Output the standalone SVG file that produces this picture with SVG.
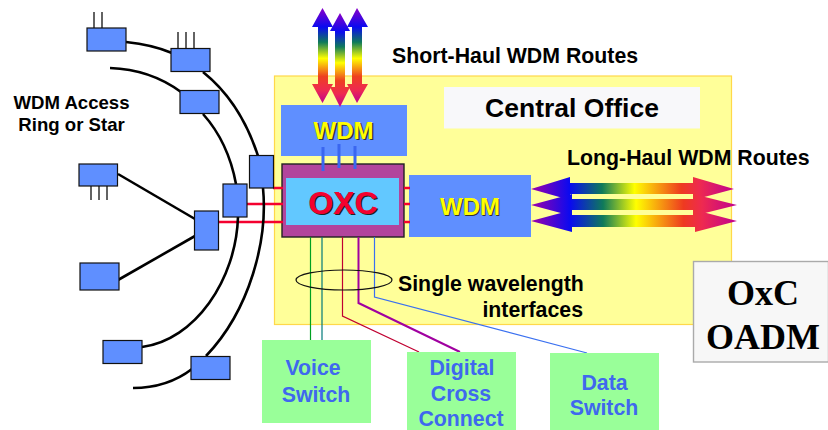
<svg xmlns="http://www.w3.org/2000/svg" width="828" height="430" viewBox="0 0 828 430">
<style>
text{font-family:"Liberation Sans",Arial,sans-serif;font-weight:bold}
.blk{fill:#000}
.lbl{font-size:21.300px}
.acc{font-size:18.600px;text-anchor:middle}
.sw{fill:#3f68ee;font-size:21.300px;text-anchor:middle}
.wdm{fill:#ffff00;font-size:24px;text-anchor:middle}
.wdm-s{fill:#333;font-size:24px;text-anchor:middle}
.serif{font-family:"Liberation Serif",serif;font-size:36px;text-anchor:middle}
.node{fill:#5f8fff;stroke:#111;stroke-width:1.2}
.sw-box{fill:#99ff99}
.ring{fill:none;stroke:#000;stroke-width:2.6}
.tick{stroke:#222;stroke-width:1.4;fill:none}
.red{stroke:#f4002f;stroke-width:2.6;fill:none}
.blue{stroke:#3a66f0;stroke-width:3;fill:none}
.thin{fill:none;stroke-width:1.2}
</style>
<defs>
<linearGradient id="h" x1="0" y1="0" x2="1" y2="0">
<stop offset="0" stop-color="#a000a8"/><stop offset=".19" stop-color="#0a0af0"/><stop offset=".35" stop-color="#0f7a5a"/><stop offset=".51" stop-color="#ffff00"/><stop offset=".74" stop-color="#ee3a20"/><stop offset=".83" stop-color="#ee2a50"/><stop offset="1" stop-color="#c00090"/>
</linearGradient>
<linearGradient id="v" x1="0" y1="0" x2="0" y2="1">
<stop offset="0" stop-color="#8a00c8"/><stop offset=".2" stop-color="#0a0af0"/><stop offset=".36" stop-color="#0f7a5a"/><stop offset=".53" stop-color="#ffff00"/><stop offset=".72" stop-color="#ee4020"/><stop offset=".86" stop-color="#ee2a50"/><stop offset="1" stop-color="#c00090"/>
</linearGradient>
</defs>
<rect x="0" y="0" width="828" height="430" fill="#fff"/>
<rect id="central-office" x="274.500" y="76" width="457" height="248.500" fill="#ffff99" stroke="#ffd84a" stroke-width="1.2"/>
<rect id="central-office-label-bg" x="444" y="87" width="256" height="41.500" fill="#f8f8fa"/>
<text class="blk" x="572" y="117" font-size="26.500" text-anchor="middle">Central Office</text>
<text class="blk lbl" x="392" y="63">Short-Haul WDM Routes</text>
<text class="blk lbl" x="567" y="165">Long-Haul WDM Routes</text>
<text class="blk acc" x="71.500" y="108.500">WDM Access</text>
<text class="blk acc" x="71.500" y="131">Ring or Star</text>

<g id="wdm-top"><rect x="281" y="105" width="126" height="51" fill="#5f8fff"/>
<text class="wdm-s" x="344" y="139" dx="1" dy="1">WDM</text><text class="wdm" x="343.500" y="139">WDM</text></g>
<g id="oxc"><rect x="282" y="164" width="122" height="73" fill="#b2449c" stroke="#222" stroke-width="1.4"/>
<rect x="286" y="178" width="113" height="47" fill="#62c8ff"/>
<text x="343" y="213.500" text-anchor="middle" font-size="32" fill="#222" dx="1.500" dy="1.500">OXC</text>
<text x="343" y="213.500" text-anchor="middle" font-size="32" fill="#f4002f">OXC</text></g>
<g id="wdm-right"><rect x="409" y="175" width="122" height="62" fill="#5f8fff"/>
<text class="wdm-s" x="470" y="215" dx="1" dy="1">WDM</text><text class="wdm" x="470" y="215">WDM</text></g>

<g id="connectors">
<path class="red" d="M273 188 H283 M246 204 H283 M218 222 H283 M404 188 H410 M404 204 H410 M404 222 H410"/>
<path class="ring" d="M126 42 C145 44 158 47 172 53"/>
<path class="ring" d="M203 72 C228 92 247 122 258 156"/>
<path class="ring" d="M110 68 C140 69 162 78 181 92"/>
<path class="ring" d="M203 114 C220 133 231 157 236 184"/>
<path class="ring" d="M263 188 C268 240 250 310 206 356"/>
<path class="ring" d="M192 369 C175 382 155 388 133 388"/>
<path class="ring" d="M238 217 C236 280 195 340 142 347"/>
<path class="ring" d="M118 174 L195 219"/>
<path class="ring" d="M118 280 L195 236"/>
<path class="blue" d="M323 147 V171 M339 144 V168 M355 146 V169"/>
<path class="thin" d="M310.500 237 V340" stroke="#00a020"/>
<path class="thin" d="M322 237 V340" stroke="#007a7a"/>
<path class="thin" d="M342.500 237 V316 L419 352" stroke="#c00030"/>
<path d="M358.500 237 V303 L460 352" fill="none" stroke="#a000a0" stroke-width="2"/>
<path class="thin" d="M374.500 237 V297 L587 353" stroke="#3a70f0"/>
<path class="tick" d="M94 12 V28 M102 12 V28 M178 32 V48 M186 32 V48 M194 32 V48 M91 186 V200 M99 186 V200 M107 186 V200"/>
</g>

<g id="node-a1"><rect class="node" x="87" y="28" width="39" height="23"/></g>
<g id="node-a2"><rect class="node" x="171" y="48.500" width="39" height="23"/></g>
<g id="node-a3"><rect class="node" x="180" y="90.500" width="39" height="23"/></g>
<g id="node-a4"><rect class="node" x="79" y="164" width="38.500" height="22"/></g>
<g id="node-a5"><rect class="node" x="80" y="263" width="39" height="27"/></g>
<g id="node-a6"><rect class="node" x="103" y="340.500" width="39" height="23"/></g>
<g id="node-a7"><rect class="node" x="191" y="356.500" width="39" height="23"/></g>
<g id="node-hub1"><rect class="node" x="249.500" y="155.500" width="24" height="32.500"/></g>
<g id="node-hub2"><rect class="node" x="223" y="184" width="24" height="33"/></g>
<g id="node-hub3"><rect class="node" x="194.500" y="211" width="24" height="39"/></g>

<g id="arrows-short">
<path fill="url(#v)" d="M322.500 8 L333 27 H328 V84 H333 L322.500 103 L312 84 H318 V27 H312Z"/>
<path fill="url(#v)" d="M357 8 L368 27 H362 V84 H368 L357 103 L347 84 H352 V27 H347Z"/>
<path fill="url(#v)" d="M340 13 L350 31 H345 V87 H350 L340 107 L330 87 H335 V31 H330Z"/>
</g>
<g id="arrows-long">
<path fill="url(#h)" d="M531 189 L570 177 V183 H693 V177 L734 189 L693 200 V194 H570 V200Z"/>
<path fill="url(#h)" d="M531 205 L572 194 V199 H693 V194 L737 205 L693 216 V210 H572 V216Z"/>
<path fill="url(#h)" d="M531 221 L572 210 V215 H695 V210 L737 221 L695 232 V227 H572 V232Z"/>
</g>

<ellipse id="single-ellipse" cx="344" cy="280" rx="48" ry="10" fill="none" stroke="#111" stroke-width="1.2"/>
<text class="blk lbl" x="398" y="290.500">Single wavelength</text>
<text class="blk lbl" x="583" y="316.500" text-anchor="end">interfaces</text>

<g id="voice-switch"><rect class="sw-box" x="262" y="340" width="109" height="83"/>
<text class="sw" x="313" y="375">Voice</text><text class="sw" x="316" y="402">Switch</text></g>
<g id="digital-cross"><rect class="sw-box" x="407" y="352" width="109" height="78"/>
<text class="sw" x="462" y="375">Digital</text><text class="sw" x="461" y="400.500">Cross</text><text class="sw" x="461" y="425.500">Connect</text></g>
<g id="data-switch"><rect class="sw-box" x="550" y="353" width="109" height="77"/>
<text class="sw" x="604.500" y="390">Data</text><text class="sw" x="604" y="414.500">Switch</text></g>

<g id="oxc-oadm-note"><rect x="693.500" y="261.500" width="135" height="100.500" fill="#f7f7f7" stroke="#aaa" stroke-width="1.4"/>
<text class="serif" x="763" y="305">OxC</text>
<text class="serif" x="763" y="349">OADM</text></g>
</svg>
